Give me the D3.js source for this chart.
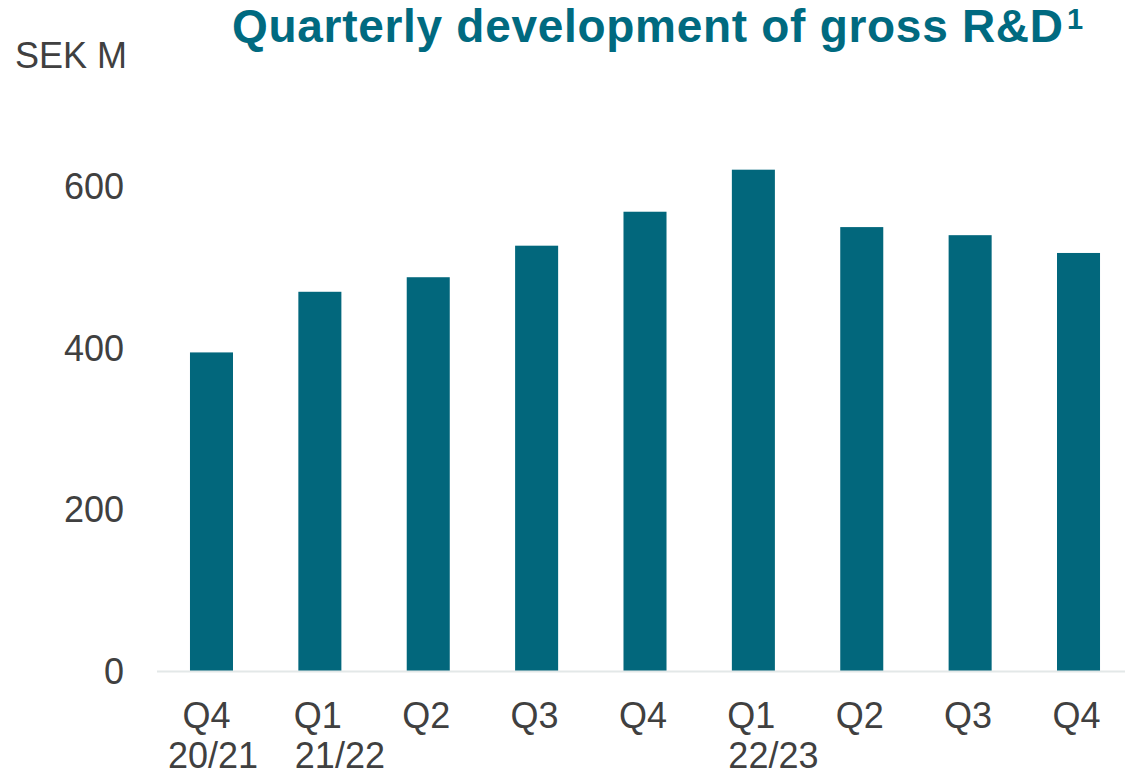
<!DOCTYPE html>
<html>
<head>
<meta charset="utf-8">
<script src="https://cdn.jsdelivr.net/npm/d3@7"></script>
<style>
  html, body { margin: 0; padding: 0; background: #ffffff; }
  svg { display: block; font-family: "Liberation Sans", Arial, sans-serif; }
</style>
</head>
<body>
<svg id="chart" width="1125" height="776"></svg>
<script>
// ---- data ----
const categories = ["Q4", "Q1", "Q2", "Q3", "Q4", "Q1", "Q2", "Q3", "Q4"];
const subLabels  = ["20/21", "21/22", "", "", "", "22/23", "", "", ""];
const values     = [394, 469, 487, 526, 568, 620, 549, 539, 517];
const yTicks     = [0, 200, 400, 600];
const titleText  = "Quarterly development of gross R&D";
const titleSup   = "1";
const unitLabel  = "SEK M";

// ---- styles ----
const barColor = "#02677c";
const titleColor = "#006a80";
const textColor = "#404040";
const axisColor = "#e3e8e8";

const svg = d3.select("#chart");
const W = 1125, H = 776;

const x = d3.scaleBand()
  .domain(d3.range(categories.length))
  .range([157.3, 1132.7])
  .paddingInner(0.603)
  .paddingOuter(0.3015);

const y = d3.scaleLinear().domain([0, 700]).range([671, 105]);

// bars
svg.append("g").selectAll("rect")
  .data(values)
  .join("rect")
  .attr("x", (d, i) => x(i))
  .attr("width", x.bandwidth())
  .attr("y", d => y(d))
  .attr("height", d => y(0) - y(d))
  .attr("fill", barColor);

// baseline
svg.append("line")
  .attr("x1", 157).attr("x2", W)
  .attr("y1", y(0) + 0.5).attr("y2", y(0) + 0.5)
  .attr("stroke", axisColor).attr("stroke-width", 2);

// y axis labels
const yAxis = d3.axisLeft(y).tickValues(yTicks).tickSize(0).tickPadding(0);
const yg = svg.append("g").attr("transform", "translate(124,0)").call(yAxis);
yg.select(".domain").remove();
yg.selectAll("text")
  .attr("fill", textColor)
  .attr("font-size", 36)
  .attr("font-family", "'Liberation Sans', Arial, sans-serif")
  .attr("dy", "0.35em");

// x labels
const xl = svg.append("g");
categories.forEach((c, i) => {
  const cx = x(i) + x.bandwidth() / 2;
  const hasSub = subLabels[i] !== "";
  const t1 = xl.append("text")
    .attr("x", i === 0 ? cx - 5 : cx - 2)
    .attr("y", 728)
    .attr("text-anchor", "middle")
    .attr("font-size", 36)
    .attr("fill", textColor)
    .text(c);
  if (hasSub) {
    const bb = t1.node().getBBox();
    const t2 = xl.append("text")
      .attr("y", 768)
      .attr("font-size", 36)
      .attr("fill", textColor)
      .text(subLabels[i]);
    if (i === 0) {
      t2.attr("x", cx + 1.5).attr("text-anchor", "middle");
    } else {
      t2.attr("x", bb.x + 1).attr("text-anchor", "start");
    }
  }
});

// unit label
svg.append("text")
  .attr("x", 15).attr("y", 68)
  .attr("font-size", 36)
  .attr("fill", textColor)
  .text(unitLabel);

// title
const title = svg.append("text")
  .attr("x", 232).attr("y", 42)
  .attr("font-size", 46)
  .attr("font-weight", "bold")
  .attr("fill", titleColor)
  .attr("textLength", 831)
  .attr("lengthAdjust", "spacing")
  .text(titleText);
const tb = title.node().getBBox();
svg.append("text")
  .attr("x", 232 + 831 + 4).attr("y", 29)
  .attr("font-size", 29)
  .attr("font-weight", "bold")
  .attr("fill", titleColor)
  .text(titleSup);
</script>
</body>
</html>
